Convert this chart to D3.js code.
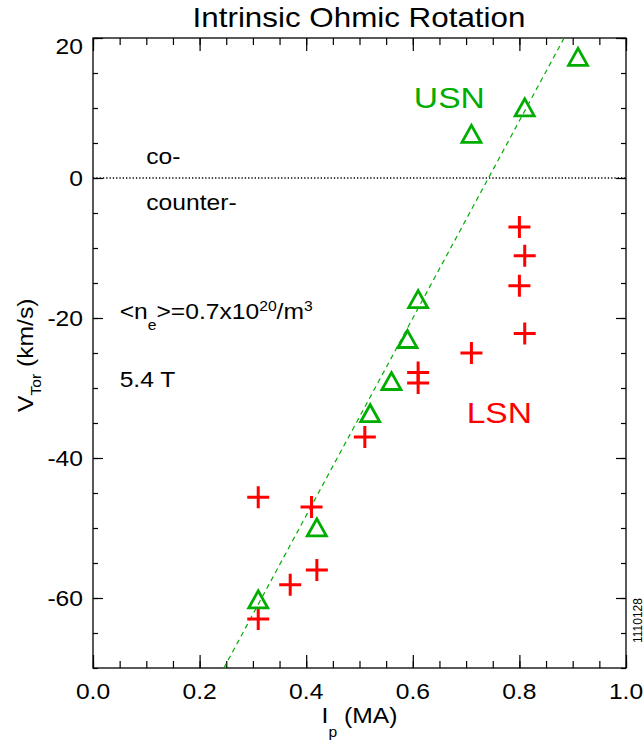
<!DOCTYPE html>
<html>
<head>
<meta charset="utf-8">
<script src="https://cdn.jsdelivr.net/npm/d3@7"></script>
<style>
  body { margin: 0; background: #fff; }
  text { font-family: "Liberation Sans", Arial, sans-serif; fill: #000; }
</style>
</head>
<body>
<div id="chart"></div>
<script>
// Data
const usnIp = [0.31, 0.42, 0.52, 0.56, 0.59, 0.61, 0.71, 0.81, 0.91]
const usnV  = [-60.2, -49.9, -33.6, -29.0, -23.0, -17.3, 6.3, 10.1, 17.3]
const lsnIp = [0.31, 0.31, 0.37, 0.41, 0.42, 0.51, 0.61, 0.61, 0.71, 0.80, 0.81, 0.80, 0.81]
const lsnV  = [-45.6, -63.0, -58.1, -47.0, -56.0, -37.0, -27.8, -29.3, -25.0, -7.0, -11.1, -15.4, -22.2]
// dashed fit: V = fitSlope * (Ip - fitZero)
const fitSlope = 141
const fitZero = 0.742
const xTicks = [0, 0.2, 0.4, 0.6, 0.8, 1.0]
const yTicks = [20, 0, -20, -40, -60]

const green = "#00ad00"
const red = "#ff0000"
const S = 1.12   // text is drawn a bit wide in the original

const margin = { top: 38, right: 18, bottom: 76, left: 93 }
const width = 644 - margin.left - margin.right
const height = 744 - margin.top - margin.bottom

const root = d3.select("#chart").append("svg")
    .attr("width", 644)
    .attr("height", 744)
const svg = root.append("g")
    .attr("transform", "translate(" + margin.left + "," + margin.top + ")")

const x = d3.scaleLinear().domain([0, 1]).range([0, width])
const y = d3.scaleLinear().domain([-70, 20]).range([height, 0])

// stretched text helper
function label(g, px, py, size, anchor, rot) {
  return g.append("text")
    .attr("transform", "translate(" + px + "," + py + ")" + (rot ? " rotate(" + rot + ")" : "") + " scale(" + S + ",1)")
    .attr("text-anchor", anchor || "start")
    .style("font-size", size + "px")
}

// ticks, all pointing inward
const xMinor = d3.range(0, 1.0001, 0.05)
const yMinor = d3.range(-70, 20.001, 5)
function tickAxis(axis, vals, size, tr) {
  const g = svg.append("g")
    .attr("transform", tr)
    .call(axis.tickValues(vals).tickSize(size).tickFormat(""))
  g.select(".domain").remove()
  g.selectAll(".tick line").attr("stroke", "#000").attr("stroke-width", 1.2)
}
tickAxis(d3.axisBottom(x), xMinor, -7, "translate(0," + height + ")")
tickAxis(d3.axisBottom(x), xTicks, -13, "translate(0," + height + ")")
tickAxis(d3.axisTop(x), xMinor, -7, "translate(0,0)")
tickAxis(d3.axisTop(x), xTicks, -13, "translate(0,0)")
tickAxis(d3.axisLeft(y), yMinor, -5, "translate(0,0)")
tickAxis(d3.axisLeft(y), yTicks, -10, "translate(0,0)")
tickAxis(d3.axisRight(y), yMinor, -5, "translate(" + width + ",0)")
tickAxis(d3.axisRight(y), yTicks, -10, "translate(" + width + ",0)")

svg.append("rect")
    .attr("width", width)
    .attr("height", height)
    .attr("fill", "none")
    .attr("stroke", "#000")
    .attr("stroke-width", 1.3)

// tick labels
xTicks.forEach(d => {
  label(svg, x(d), height + 31, 22, "middle").text(d3.format(".1f")(d))
})
yTicks.forEach(d => {
  // top label sits a little lower in the original
  const py = y(d) === 0 ? 16 : y(d) + 8
  label(svg, -10, py, 22, "end").text(d)
})

// zero line
svg.append("line")
    .attr("x1", x(0)).attr("x2", x(1))
    .attr("y1", y(0)).attr("y2", y(0))
    .attr("stroke", "#000")
    .attr("stroke-width", 1.4)
    .attr("stroke-dasharray", "1.3,2")

// dashed fit line, clipped to the frame
svg.append("clipPath").attr("id", "clip")
  .append("rect").attr("width", width).attr("height", height)
const vEnds = y.domain()
svg.append("line")
    .attr("clip-path", "url(#clip)")
    .attr("x1", x(fitZero + vEnds[0] / fitSlope)).attr("y1", y(vEnds[0]))
    .attr("x2", x(fitZero + vEnds[1] / fitSlope)).attr("y2", y(vEnds[1]))
    .attr("stroke", green)
    .attr("stroke-width", 1.2)
    .attr("stroke-dasharray", "5,4")

// LSN pluses
svg.selectAll(".lsn")
  .data(lsnIp.map((d, i) => ({ ip: d, v: lsnV[i] })))
  .join("path")
    .attr("class", "lsn")
    .attr("transform", d => "translate(" + x(d.ip) + "," + y(d.v) + ")")
    .attr("d", "M-11,0H11M0,-11V11")
    .attr("stroke", red)
    .attr("stroke-width", 3)
    .attr("fill", "none")

// USN triangles
svg.selectAll(".usn")
  .data(usnIp.map((d, i) => ({ ip: d, v: usnV[i] })))
  .join("path")
    .attr("class", "usn")
    .attr("transform", d => "translate(" + x(d.ip) + "," + y(d.v) + ")")
    .attr("d", "M-9.5,8.5L0,-8.5L9.5,8.5Z")
    .attr("stroke", green)
    .attr("stroke-width", 2.8)
    .attr("fill", "none")

// annotations
label(svg, x(0.1), y(2), 22).text("co-")
label(svg, x(0.1), y(-4.6), 22).text("counter-")

const ne = label(svg, x(0.05), y(-20.1), 22)
ne.append("tspan").text("<n")
ne.append("tspan").attr("dy", 11).style("font-size", "14px").text("e")
ne.append("tspan").attr("dy", -11).text(">=0.7x10")
ne.append("tspan").attr("dy", -8).style("font-size", "14px").text("20")
ne.append("tspan").attr("dy", 8).text("/m")
ne.append("tspan").attr("dy", -8).style("font-size", "14px").text("3")

label(svg, x(0.05), y(-29.8), 22).text("5.4 T")

label(svg, x(0.602), y(10), 30).style("fill", green).text("USN")
label(svg, x(0.701), y(-35), 30).style("fill", red).text("LSN")

// title and axis titles
label(root, 359, 27, 28, "middle").text("Intrinsic Ohmic Rotation")

const xl = label(root, 359.5, 723, 22, "middle")
xl.append("tspan").text("I")
xl.append("tspan").attr("dy", 14).style("font-size", "14px").text("p")
xl.append("tspan").attr("dy", -14).text(" (MA)")

const yl = label(root, 33, 412, 22, "start", -90)
yl.append("tspan").text("V")
yl.append("tspan").attr("dy", 8).style("font-size", "14px").text("Tor")
yl.append("tspan").attr("dy", -8).text(" (km/s)")

root.append("text")
    .attr("transform", "translate(642,643) rotate(-90)")
    .style("font-size", "12px")
    .text("1110128")
</script>
</body>
</html>
